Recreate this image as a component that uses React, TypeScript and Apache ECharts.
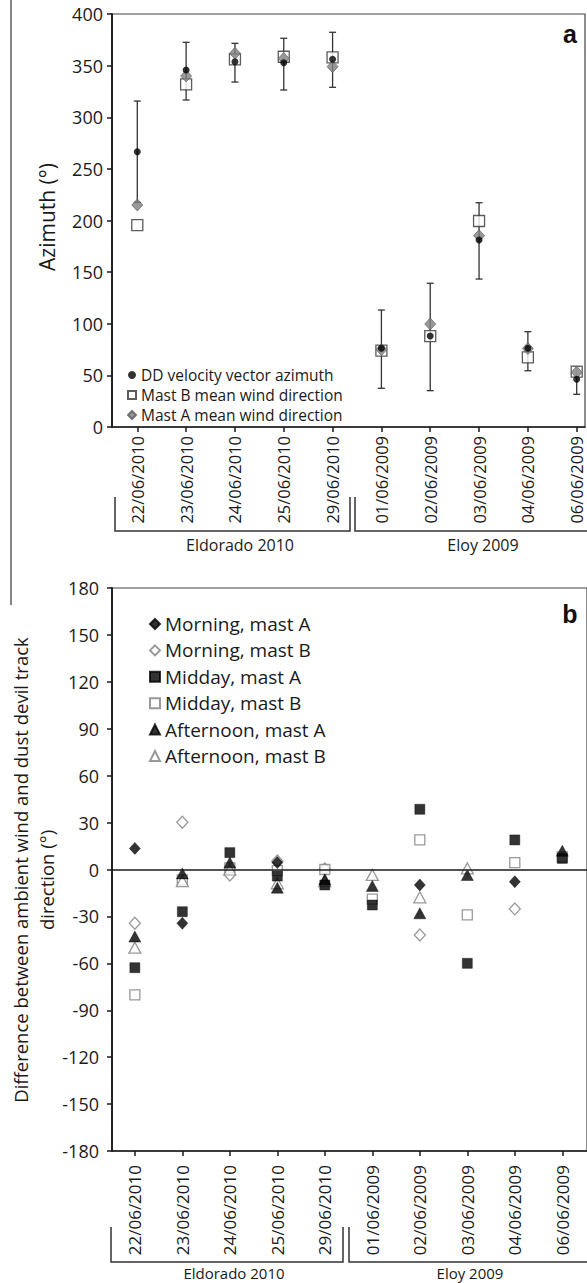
import React, { useEffect, useRef } from 'react';
import * as echarts from 'echarts';

const dates = ['22/06/2010', '23/06/2010', '24/06/2010', '25/06/2010', '29/06/2010', '01/06/2009', '02/06/2009', '03/06/2009', '04/06/2009', '06/06/2009'];
const positions = [1, 2, 3, 4, 5, 6, 7, 8, 9, 10];

// Panel a: azimuth (deg)
const ddAzimuth = [266.6, 345.8, 353.8, 352.8, 356.1, 76.2, 88.1, 181.1, 76.2, 46.2];
const ddLow = [217.5, 316.7, 334.1, 326.4, 329.0, 37.5, 35.2, 143.3, 54.5, 31.7];
const ddHigh = [315.7, 372.6, 371.6, 376.5, 382.3, 113.3, 139.2, 217.2, 92.3, 58.4];
const mastBDir = [195.6, 331.9, 356.0, 358.6, 358.0, 73.9, 88.0, 199.5, 67.5, 53.6];
const mastADir = [215.0, 340.0, 361.9, 357.0, 349.0, 75.0, 99.8, 185.3, 76.0, 53.0];

// Panel b: difference (deg)
const morningA = [13.5, -34.4, null, 4.4, null, null, -9.9, null, -7.8, null];
const morningB = [-34.4, 30.2, -3.5, 5.4, 0.3, null, -41.9, null, -25.2, null];
const middayA = [-62.8, -27.0, 10.8, -4.2, -9.9, -22.7, 38.5, -60.0, 18.9, 7.1];
const middayB = [-80.2, -6.7, 1.0, -0.7, 0.0, -18.9, 18.9, -29.0, 4.4, 8.0];
const afternoonA = [-42.9, -2.5, 4.4, -11.6, -6.3, -10.5, -28.0, -3.5, null, 12.0];
const afternoonB = [-50.0, -7.4, 0.0, -8.8, -7.4, -3.5, -17.8, 0.7, null, null];

const FONT = 'Open Sans';
const TXT = '#1a1a1a';

const pairs = (vals: (number | null)[]) => positions.map((p, i) => [p, vals[i] == null ? '-' : vals[i]]);

const centered = { align: 'center', verticalAlign: 'middle', textAlign: 'center', textVerticalAlign: 'middle' };

export default function App() {
  const ref = useRef<HTMLDivElement>(null);
  useEffect(() => {
    if (!ref.current) return;
    const chart = echarts.init(ref.current, null, { renderer: 'svg' });
    const xAxisCommon = (gridIndex: number, min: number, max: number, margin: number, fs: number) => ({
      type: 'value', gridIndex, min, max,
      axisLine: { show: true, onZero: false, lineStyle: { color: '#1a1a1a', width: 1.6 } },
      axisTick: { show: true, customValues: positions, length: 5, inside: false, lineStyle: { color: '#1a1a1a', width: 1.5 } },
      axisLabel: {
        customValues: positions, rotate: 90, margin, fontSize: fs, fontFamily: FONT, color: TXT,
        formatter: (v: number) => dates[Math.round(v) - 1] || '',
      },
      splitLine: { show: false },
    });
    const yAxisCommon = (gridIndex: number, min: number, max: number, interval: number, margin: number, fs: number) => ({
      type: 'value', gridIndex, min, max, interval,
      axisLine: { show: true, lineStyle: { color: '#1a1a1a', width: 1.8 } },
      axisTick: { show: true, length: 5, inside: false, lineStyle: { color: '#1a1a1a', width: 1.5 } },
      axisLabel: { margin, fontSize: fs, fontFamily: FONT, color: TXT },
      splitLine: { show: false },
    });
    const openStyle = { color: '#fff', borderColor: '#808080', borderWidth: 1.3 };
    const filledStyle = { color: '#000', borderColor: '#000', borderWidth: 0.5 };
    const option: any = {
      animation: false,
      grid: [
        { left: 112, top: 14, width: 473, height: 413, show: true, borderColor: '#444', borderWidth: 1.2 },
        { left: 112, top: 588, width: 478, height: 563, show: true, borderColor: '#444', borderWidth: 1.2 },
      ],
      xAxis: [xAxisCommon(0, 0.482, 10.17, 9, 16.5), xAxisCommon(1, 0.519, 10.52, 14, 17)],
      yAxis: [yAxisCommon(0, 0, 400, 50, 9, 18), yAxisCommon(1, -180, 180, 30, 13, 18)],
      legend: [
        {
          data: ['DD velocity vector azimuth', 'Mast B mean wind direction', 'Mast A mean wind direction'],
          orient: 'vertical', left: 122, top: 362, itemWidth: 8, itemHeight: 8, itemGap: 4,
          textStyle: { fontSize: 15.5, lineHeight: 16, fontFamily: FONT, color: TXT },
        },
        {
          data: ['Morning, mast A', 'Morning, mast B', 'Midday, mast A', 'Midday, mast B', 'Afternoon, mast A', 'Afternoon, mast B'],
          orient: 'vertical', left: 144, top: 609, itemWidth: 10, itemHeight: 10, itemGap: 6.4,
          textStyle: { fontSize: 19, lineHeight: 20, fontFamily: FONT, color: TXT },
        },
      ],
      series: [
        {
          name: 'Mast B mean wind direction', type: 'scatter', xAxisIndex: 0, yAxisIndex: 0,
          symbol: 'rect', symbolSize: 11, itemStyle: { color: '#fff', borderColor: '#333', borderWidth: 1.3 },
          data: pairs(mastBDir),
        },
        {
          name: 'Mast A mean wind direction', type: 'scatter', xAxisIndex: 0, yAxisIndex: 0,
          symbol: 'diamond', symbolSize: [11, 12], itemStyle: { color: '#7f7f7f', borderColor: '#5a5a5a', borderWidth: 0.8 },
          data: pairs(mastADir),
        },
        {
          name: 'DD error', type: 'custom', xAxisIndex: 0, yAxisIndex: 0,
          encode: { x: 0, y: [1, 2] },
          data: positions.map((p, i) => [p, ddLow[i], ddHigh[i]]),
          renderItem: (params: any, api: any) => {
            const x = api.value(0);
            const lo = api.coord([x, api.value(1)]);
            const hi = api.coord([x, api.value(2)]);
            const cap = 3.5;
            const st = { stroke: '#333', lineWidth: 1.3 };
            return {
              type: 'group',
              children: [
                { type: 'line', shape: { x1: lo[0], y1: lo[1], x2: hi[0], y2: hi[1] }, style: st },
                { type: 'line', shape: { x1: lo[0] - cap, y1: lo[1], x2: lo[0] + cap, y2: lo[1] }, style: st },
                { type: 'line', shape: { x1: hi[0] - cap, y1: hi[1], x2: hi[0] + cap, y2: hi[1] }, style: st },
              ],
            };
          },
        },
        {
          name: 'DD velocity vector azimuth', type: 'scatter', xAxisIndex: 0, yAxisIndex: 0,
          symbol: 'circle', symbolSize: 7, itemStyle: { color: '#000' },
          data: pairs(ddAzimuth),
        },
        {
          name: 'Morning, mast B', type: 'scatter', xAxisIndex: 1, yAxisIndex: 1,
          symbol: 'diamond', symbolSize: [11, 12], itemStyle: openStyle, data: pairs(morningB),
          markLine: {
            silent: true, symbol: ['none', 'none'], label: { show: false },
            lineStyle: { color: '#1a1a1a', width: 1.6, type: 'solid' },
            data: [{ yAxis: 0 }],
          },
        },
        { name: 'Midday, mast B', type: 'scatter', xAxisIndex: 1, yAxisIndex: 1, symbol: 'rect', symbolSize: 10, itemStyle: openStyle, data: pairs(middayB) },
        { name: 'Afternoon, mast B', type: 'scatter', xAxisIndex: 1, yAxisIndex: 1, symbol: 'triangle', symbolSize: [12, 11], itemStyle: openStyle, data: pairs(afternoonB) },
        { name: 'Morning, mast A', type: 'scatter', xAxisIndex: 1, yAxisIndex: 1, symbol: 'diamond', symbolSize: [11, 12], itemStyle: filledStyle, data: pairs(morningA) },
        { name: 'Midday, mast A', type: 'scatter', xAxisIndex: 1, yAxisIndex: 1, symbol: 'rect', symbolSize: 10, itemStyle: filledStyle, data: pairs(middayA) },
        { name: 'Afternoon, mast A', type: 'scatter', xAxisIndex: 1, yAxisIndex: 1, symbol: 'triangle', symbolSize: [12, 11], itemStyle: filledStyle, data: pairs(afternoonA) },
      ],
      graphic: [
        { type: 'line', shape: { x1: 11, y1: 0, x2: 11, y2: 605 }, style: { stroke: '#333', lineWidth: 1.2 } },
        {
          type: 'text', x: 47, y: 217, rotation: Math.PI / 2,
          style: { text: 'Azimuth (°)', fontSize: 21, fontFamily: FONT, fill: TXT, ...centered },
        },
        {
          type: 'text', x: 20, y: 870, rotation: Math.PI / 2,
          style: { text: 'Difference between ambient wind and dust devil track', fontSize: 18.5, fontFamily: FONT, fill: TXT, ...centered },
        },
        {
          type: 'text', x: 46, y: 880, rotation: Math.PI / 2,
          style: { text: 'direction (°)', fontSize: 18.5, fontFamily: FONT, fill: TXT, ...centered },
        },
        {
          type: 'text', x: 570, y: 34,
          style: { text: 'a', fontSize: 25, fontWeight: 'bold', fontFamily: 'Liberation Sans', fill: '#111', ...centered },
        },
        {
          type: 'text', x: 570, y: 614,
          style: { text: 'b', fontSize: 25, fontWeight: 'bold', fontFamily: 'Liberation Sans', fill: '#111', ...centered },
        },
        { type: 'polyline', shape: { points: [[115, 497], [115, 531], [350, 531], [350, 497]] }, style: { stroke: '#333', lineWidth: 1.5, fill: null } },
        { type: 'polyline', shape: { points: [[355, 497], [355, 531], [600, 531]] }, style: { stroke: '#333', lineWidth: 1.5, fill: null } },
        {
          type: 'text', x: 240, y: 545,
          style: { text: 'Eldorado 2010', fontSize: 16, fontFamily: FONT, fill: TXT, ...centered },
        },
        {
          type: 'text', x: 483, y: 545,
          style: { text: 'Eloy 2009', fontSize: 16, fontFamily: FONT, fill: TXT, ...centered },
        },
        { type: 'polyline', shape: { points: [[111, 1227], [111, 1262], [343, 1262], [343, 1227]] }, style: { stroke: '#333', lineWidth: 1.5, fill: null } },
        { type: 'polyline', shape: { points: [[349, 1227], [349, 1262], [600, 1262]] }, style: { stroke: '#333', lineWidth: 1.5, fill: null } },
        {
          type: 'text', x: 234, y: 1273,
          style: { text: 'Eldorado 2010', fontSize: 15, fontFamily: FONT, fill: TXT, ...centered },
        },
        {
          type: 'text', x: 470, y: 1273,
          style: { text: 'Eloy 2009', fontSize: 15, fontFamily: FONT, fill: TXT, ...centered },
        },
      ],
    };
    chart.setOption(option);
    return () => chart.dispose();
  }, []);
  return <div ref={ref} style={{ position: 'absolute', left: 0, top: 0, width: 587, height: 1283, background: '#fff' }} />;
}
